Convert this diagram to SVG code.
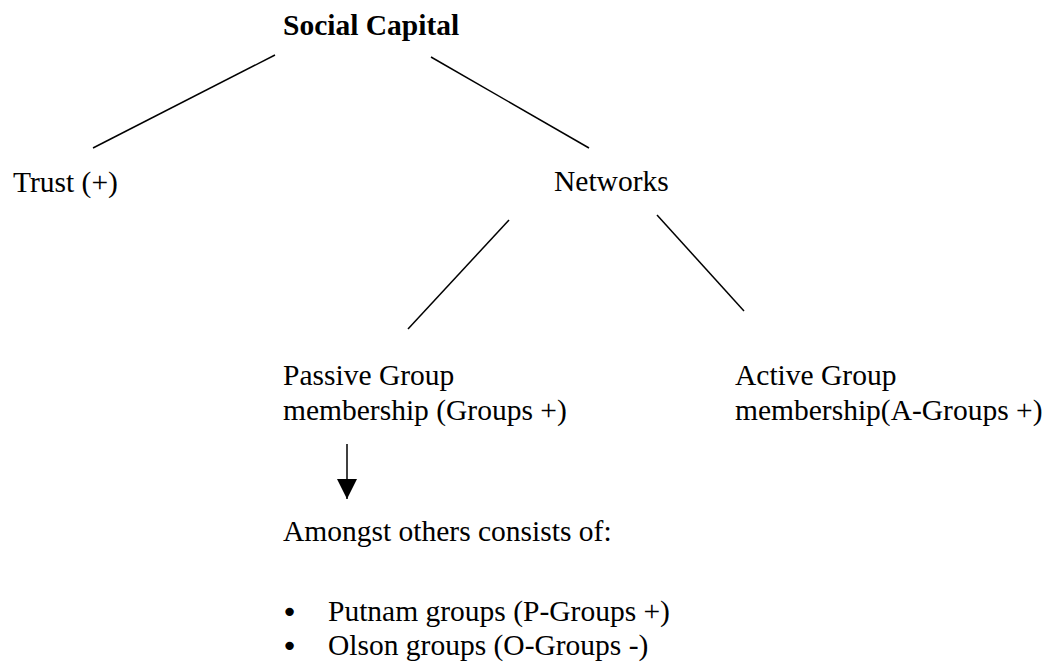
<svg xmlns="http://www.w3.org/2000/svg" width="1052" height="665" viewBox="0 0 1052 665">
<style>
text{font-family:"Liberation Serif","Times New Roman",serif;font-size:29.5px;fill:#000}
.b{font-weight:bold}
.bul{font-family:"DejaVu Sans",sans-serif;font-size:29px}
.c{stroke:#000;stroke-width:1.5;fill:none}
</style>
<defs>
<marker id="ah" markerWidth="20" markerHeight="20" refX="20" refY="10" orient="auto" markerUnits="userSpaceOnUse" viewBox="0 0 20 20">
<path d="M0,0 L20,10 L0,20 Z" fill="#000"/>
</marker>
</defs>
<rect width="1052" height="665" fill="#fff"/>
<g id="connectors">
<line class="c" x1="275" y1="55" x2="93" y2="148"/>
<line class="c" x1="431" y1="57" x2="589" y2="148"/>
<line class="c" x1="509" y1="220" x2="408" y2="329"/>
<line class="c" x1="657" y1="215" x2="744" y2="311"/>
<line class="c" x1="347" y1="444" x2="347" y2="499" marker-end="url(#ah)"/>
</g>
<g id="social-capital"><text class="b" x="283" y="35">Social Capital</text></g>
<g id="trust"><text x="13" y="192">Trust (+)</text></g>
<g id="networks"><text x="554" y="191">Networks</text></g>
<g id="passive"><text x="283" y="385">Passive Group</text><text x="283" y="420">membership (Groups +)</text></g>
<g id="active"><text x="735" y="385">Active Group</text><text x="735" y="420">membership(A-Groups +)</text></g>
<g id="consists">
<text x="283" y="541">Amongst others consists of:</text>
<text class="bul" x="281" y="622">•</text><text x="328" y="621">Putnam groups (P-Groups +)</text>
<text class="bul" x="281" y="656">•</text><text x="328" y="655">Olson groups (O-Groups -)</text>
</g>
</svg>
